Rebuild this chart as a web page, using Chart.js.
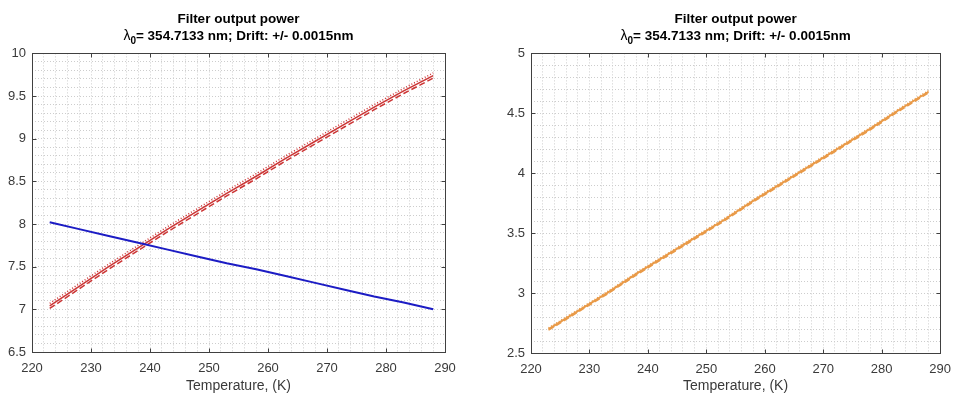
<!DOCTYPE html>
<html>
<head>
<meta charset="utf-8">
<script src="https://cdn.jsdelivr.net/npm/chart.js@4.4.1/dist/chart.umd.min.js"></script>
<style>
  body { margin: 0; background: #fff; }
  .panel { position: absolute; top: 0; width: 480px; height: 393px; }
</style>
</head>
<body>
<div class="panel" style="left:0"><canvas id="leftChart"></canvas></div>
<div class="panel" style="left:480px"><canvas id="rightChart"></canvas></div>
<script>
// temperature samples (K)
const temperatureK = [223, 228, 233, 238, 243, 248, 253, 258, 263, 268, 273, 278, 283, 288];

// left panel
const leftNominal = [7.04, 7.27, 7.50, 7.72, 7.94, 8.15, 8.36, 8.56, 8.77, 8.97, 9.17, 9.37, 9.56, 9.74];
const leftPlusDrift = [7.07, 7.30, 7.53, 7.75, 7.97, 8.18, 8.39, 8.59, 8.80, 9.00, 9.20, 9.40, 9.59, 9.77];
const leftMinusDrift = [7.01, 7.24, 7.47, 7.69, 7.91, 8.12, 8.33, 8.53, 8.74, 8.94, 9.14, 9.34, 9.53, 9.71];
const leftReference = [8.02, 7.94, 7.86, 7.78, 7.70, 7.62, 7.54, 7.47, 7.39, 7.31, 7.23, 7.15, 7.08, 7.00];

// right panel
const rightNominal = [2.70, 2.85, 3.00, 3.16, 3.31, 3.46, 3.61, 3.77, 3.92, 4.07, 4.22, 4.37, 4.53, 4.68];
const rightPlusDrift = [2.71, 2.86, 3.01, 3.17, 3.32, 3.47, 3.62, 3.78, 3.93, 4.08, 4.23, 4.38, 4.54, 4.69];
const rightMinusDrift = [2.69, 2.84, 2.99, 3.15, 3.30, 3.45, 3.60, 3.76, 3.91, 4.06, 4.21, 4.36, 4.52, 4.67];

// tick labels
const xMajorTicks = [220, 230, 240, 250, 260, 270, 280, 290];
const leftYMajorTicks = [6.5, 7, 7.5, 8, 8.5, 9, 9.5, 10];
const rightYMajorTicks = [2.5, 3, 3.5, 4, 4.5, 5];

const titleMain = 'Filter output power';
const titleSub = ['λ', '0', '= 354.7133 nm; Drift: +/- 0.0015nm'];
const FONT = 'Arial, "Liberation Sans", Helvetica, sans-serif';

// axes box with inward ticks + second title line with a subscript
const matlabBox = {
    id: 'matlabBox',
    afterDatasetsDraw(chart, args, opts) {
        const { ctx, chartArea: a, scales } = chart;
        const left = Math.round(a.left) + 0.5, right = Math.round(a.right) + 0.5;
        const top = Math.round(a.top) + 0.5, bottom = Math.round(a.bottom) + 0.5;
        const len = 4;
        ctx.save();
        ctx.strokeStyle = '#404040';
        ctx.lineWidth = 1;
        ctx.strokeRect(left, top, right - left, bottom - top);
        ctx.beginPath();
        opts.xTicks.forEach((v) => {
            const px = Math.round(scales.x.getPixelForValue(v)) + 0.5;
            ctx.moveTo(px, bottom); ctx.lineTo(px, bottom - len);
            ctx.moveTo(px, top); ctx.lineTo(px, top + len);
        });
        opts.yTicks.forEach((v) => {
            const py = Math.round(scales.y.getPixelForValue(v)) + 0.5;
            ctx.moveTo(left, py); ctx.lineTo(left + len, py);
            ctx.moveTo(right, py); ctx.lineTo(right - len, py);
        });
        ctx.stroke();

        // "λ0= ..." line, drawn so the 0 can sit as a subscript
        const bold = 'bold 13.5px ' + FONT;
        const plain = '14px ' + FONT;
        const subFont = 'bold 10px ' + FONT;
        ctx.fillStyle = '#000';
        ctx.textBaseline = 'alphabetic';
        ctx.textAlign = 'left';
        ctx.font = plain; const w0 = ctx.measureText(titleSub[0]).width;
        ctx.font = subFont; const w1 = ctx.measureText(titleSub[1]).width;
        ctx.font = bold; const w2 = ctx.measureText(titleSub[2]).width;
        const cx = (a.left + a.right) / 2;
        let x0 = cx - (w0 + w1 + w2) / 2;
        const base = 40;
        ctx.font = plain; ctx.fillText(titleSub[0], x0, base); x0 += w0;
        ctx.font = subFont; ctx.fillText(titleSub[1], x0, base + 4); x0 += w1;
        ctx.font = bold; ctx.fillText(titleSub[2], x0, base);
        ctx.restore();
    }
};

function line(data, color, dash, width) {
    return {
        data: temperatureK.map((t, i) => ({ x: t, y: data[i] })),
        borderColor: color,
        borderWidth: width || 1.5,
        borderDash: dash,
        pointRadius: 0,
        tension: 0,
        fill: false,
    };
}

function makeChart(id, datasets, yMin, yMax, yMajor, yWidth, xHeight, padRight) {
    const isMajor = (v, step) => Math.abs(v / step - Math.round(v / step)) < 1e-6;
    return new Chart(document.getElementById(id), {
        type: 'line',
        data: { datasets: datasets },
        options: {
            responsive: true,
            maintainAspectRatio: false,
            animation: false,
            layout: { padding: { left: 0, right: padRight, top: 0, bottom: 0 } },
            plugins: {
                legend: { display: false },
                tooltip: { enabled: false },
                title: {
                    display: true,
                    fullSize: false,
                    text: [titleMain, ' '],
                    color: '#000',
                    font: { family: FONT, size: 13.5, weight: 'bold', lineHeight: 1.2 },
                    padding: { top: 11, bottom: 10 },
                },
                matlabBox: { xTicks: xMajorTicks, yTicks: yMajor },
            },
            scales: {
                x: {
                    type: 'linear',
                    min: 220,
                    max: 290,
                    afterFit: (s) => { s.height = xHeight; },
                    ticks: {
                        stepSize: 2,
                        autoSkip: false,
                        maxRotation: 0,
                        padding: 9,
                        color: '#3a3a3a',
                        font: { family: FONT, size: 13 },
                        callback: (v) => (isMajor(v, 10) ? String(v) : ''),
                    },
                    grid: { color: '#cdcdcd', lineWidth: 1, drawTicks: false },
                    border: { display: false, dash: [1, 2] },
                    title: {
                        display: true,
                        text: 'Temperature, (K)',
                        color: '#3a3a3a',
                        font: { family: FONT, size: 14, lineHeight: 1 },
                        padding: 0,
                    },
                },
                y: {
                    min: yMin,
                    max: yMax,
                    afterFit: (s) => { s.width = yWidth; },
                    ticks: {
                        stepSize: 0.1,
                        autoSkip: false,
                        padding: 6,
                        color: '#3a3a3a',
                        font: { family: FONT, size: 13 },
                        callback: (v) => (isMajor(v, 0.5) ? String(Math.round(v * 10) / 10) : ''),
                    },
                    grid: { color: '#cdcdcd', lineWidth: 1, drawTicks: false },
                    border: { display: false, dash: [1, 2] },
                },
            },
        },
        plugins: [matlabBox],
    });
}

function renderCharts() {
    const red = '#cc3535';
    makeChart('leftChart', [
        line(leftReference, '#1c1cc4', [], 2),
        line(leftPlusDrift, red, [1, 2], 1.5),
        line(leftNominal, red, [], 1.5),
        line(leftMinusDrift, red, [6, 3], 1.5),
    ], 6.5, 10, leftYMajorTicks, 32, 41, 35);

    const orange = '#e99a48';
    makeChart('rightChart', [
        line(rightPlusDrift, orange, [1, 2], 1.5),
        line(rightNominal, orange, [], 2),
        line(rightMinusDrift, orange, [6, 3], 1.5),
    ], 2.5, 5, rightYMajorTicks, 51, 40, 9);
}

document.addEventListener('DOMContentLoaded', renderCharts);
</script>
</body>
</html>
